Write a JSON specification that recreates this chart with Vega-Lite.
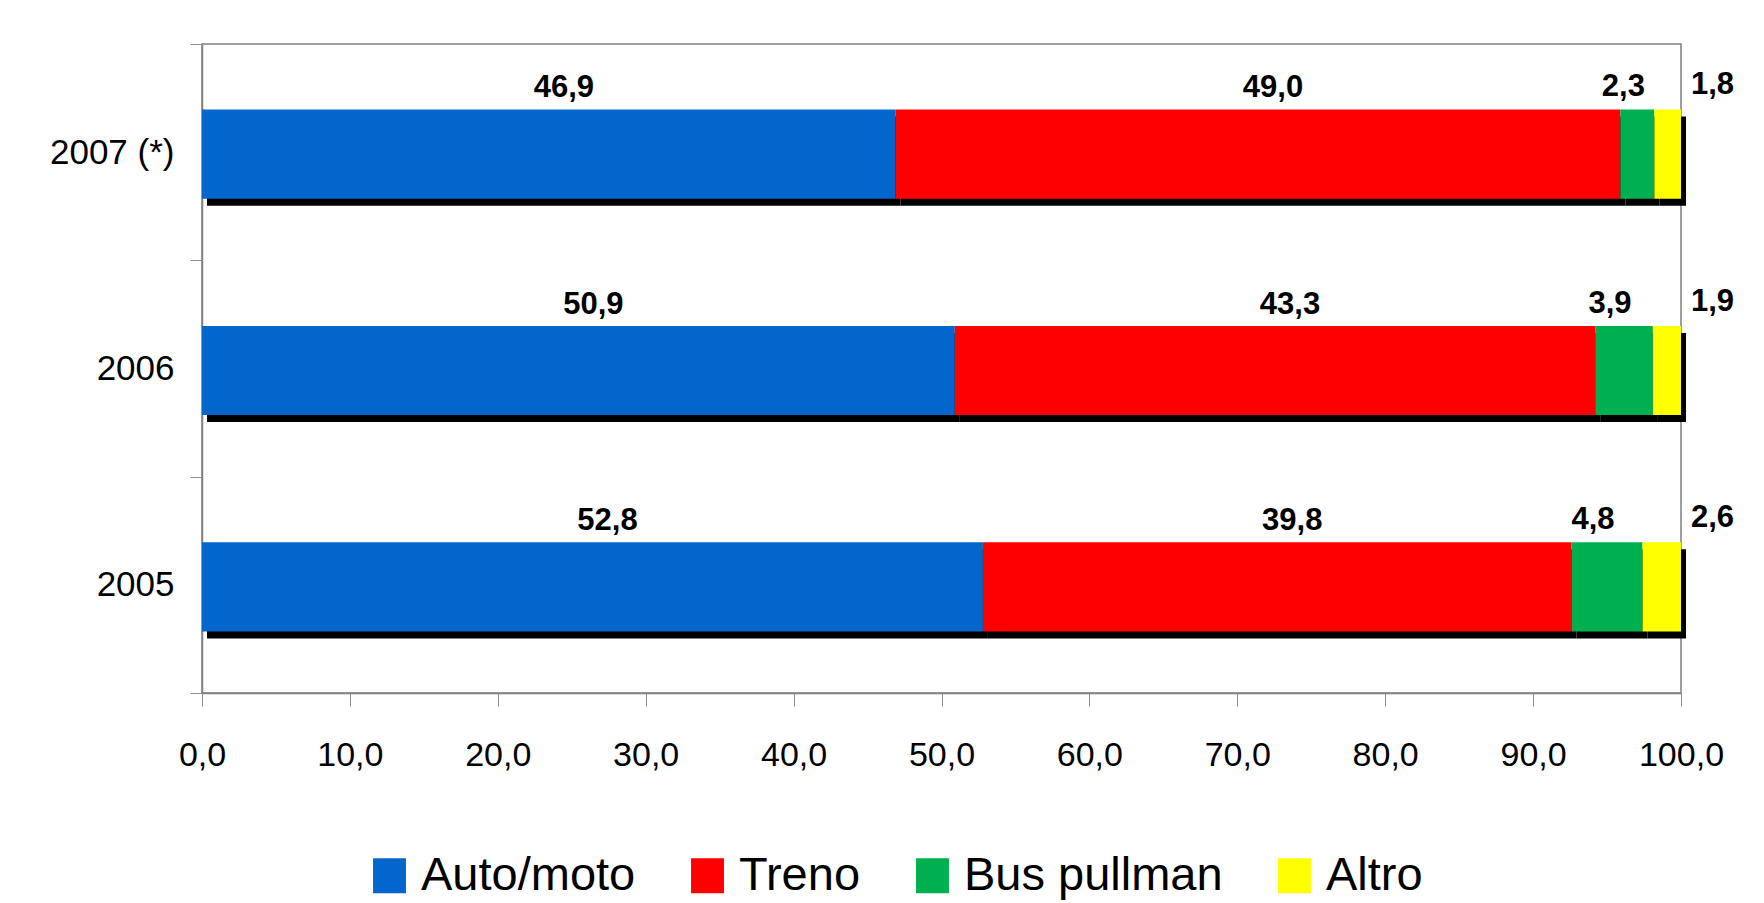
{
  "$schema": "https://vega.github.io/schema/vega-lite/v6.json",
  "width": 1479,
  "height": 649,
  "autosize": {"type": "none"},
  "padding": {"left": 202, "top": 44, "right": 83, "bottom": 210},
  "background": "white",
  "config": {
    "locale": {"number": {"decimal": ",", "thousands": ".", "grouping": [3], "currency": ["", " €"]}},
    "view": {"stroke": "#808080", "strokeWidth": 1.5},
    "font": "Liberation Sans",
    "axisX": {
      "grid": false, "tickSize": 13, "tickColor": "#909090", "domainColor": "#808080", "domainWidth": 1.5,
      "labelFont": "Liberation Sans", "labelFontSize": 34, "labelColor": "black", "labelPadding": 32,
      "labelFlush": false, "labelOverlap": false
    },
    "axisY": {
      "grid": false, "tickBand": "extent", "tickSize": 12, "tickColor": "#909090", "domainColor": "#808080", "domainWidth": 1.5,
      "labelFontSize": 35, "labelColor": "black", "labelPadding": 16
    }
  },
  "data": {"values": [
    {"anno": "2007 (*)", "modo": "Auto/moto", "ord": 1, "valore": 46.9},
    {"anno": "2007 (*)", "modo": "Treno", "ord": 2, "valore": 49.0},
    {"anno": "2007 (*)", "modo": "Bus pullman", "ord": 3, "valore": 2.3},
    {"anno": "2007 (*)", "modo": "Altro", "ord": 4, "valore": 1.8},
    {"anno": "2006", "modo": "Auto/moto", "ord": 1, "valore": 50.9},
    {"anno": "2006", "modo": "Treno", "ord": 2, "valore": 43.3},
    {"anno": "2006", "modo": "Bus pullman", "ord": 3, "valore": 3.9},
    {"anno": "2006", "modo": "Altro", "ord": 4, "valore": 1.9},
    {"anno": "2005", "modo": "Auto/moto", "ord": 1, "valore": 52.8},
    {"anno": "2005", "modo": "Treno", "ord": 2, "valore": 39.8},
    {"anno": "2005", "modo": "Bus pullman", "ord": 3, "valore": 4.8},
    {"anno": "2005", "modo": "Altro", "ord": 4, "valore": 2.6}
  ]},
  "transform": [
    {"stack": "valore", "groupby": ["anno"], "sort": [{"field": "ord", "order": "ascending"}], "as": ["v0", "v1"]},
    {"calculate": "(datum.v0 + datum.v1) / 2", "as": "mid"}
  ],
  "encoding": {
    "y": {
      "field": "anno", "type": "nominal", "sort": ["2007 (*)", "2006", "2005"], "title": null,
      "scale": {"paddingInner": 0, "paddingOuter": 0}
    }
  },
  "layer": [
    {
      "mark": {"type": "bar", "color": "black", "height": {"band": 0.412}, "xOffset": 5, "x2Offset": 5, "yOffset": 9, "y2Offset": 9},
      "encoding": {
        "x": {"field": "v0", "type": "quantitative", "title": null, "scale": {"domain": [0, 100], "nice": false}},
        "x2": {"field": "v1"}
      }
    },
    {
      "mark": {"type": "bar", "height": {"band": 0.412}, "yOffset": 2, "y2Offset": 2},
      "encoding": {
        "x": {"field": "v0", "type": "quantitative", "title": null, "scale": {"domain": [0, 100], "nice": false},
          "axis": {"values": [0, 10, 20, 30, 40, 50, 60, 70, 80, 90, 100], "format": ".1f"}},
        "x2": {"field": "v1"},
        "color": {
          "field": "modo", "type": "nominal",
          "scale": {"domain": ["Auto/moto", "Treno", "Bus pullman", "Altro"], "range": ["#0366CC", "#FF0000", "#00B050", "#FFFF00"]},
          "legend": {
            "orient": "none", "legendX": 164, "legendY": 808, "direction": "horizontal", "title": null,
            "symbolType": "M-0.94,-1H0.94V1H-0.94Z", "symbolSize": 1225, "symbolStrokeWidth": 0, "symbolOpacity": 1,
            "labelFontSize": 47, "labelColor": "black", "labelOffset": 8, "columnPadding": 48, "labelLimit": 0, "padding": 0
          }
        }
      }
    },
    {
      "transform": [{"filter": "datum.ord <= 2"}],
      "mark": {"type": "text", "fontWeight": "bold", "fontSize": 31, "color": "black", "dx": 15, "dy": -64, "align": "center", "baseline": "middle"},
      "encoding": {
        "x": {"field": "mid", "type": "quantitative", "title": null},
        "text": {"field": "valore", "type": "quantitative", "format": ".1f"}
      }
    },
    {
      "transform": [{"filter": "datum.ord == 3"}],
      "mark": {"type": "text", "fontWeight": "bold", "fontSize": 31, "color": "black", "dx": -14, "dy": -65, "align": "center", "baseline": "middle"},
      "encoding": {
        "x": {"field": "mid", "type": "quantitative", "title": null},
        "text": {"field": "valore", "type": "quantitative", "format": ".1f"}
      }
    },
    {
      "transform": [{"filter": "datum.ord == 4"}],
      "mark": {"type": "text", "fontWeight": "bold", "fontSize": 31, "color": "black", "dx": 10, "dy": -67, "align": "left", "baseline": "middle"},
      "encoding": {
        "x": {"field": "v1", "type": "quantitative", "title": null},
        "text": {"field": "valore", "type": "quantitative", "format": ".1f"}
      }
    }
  ]
}
